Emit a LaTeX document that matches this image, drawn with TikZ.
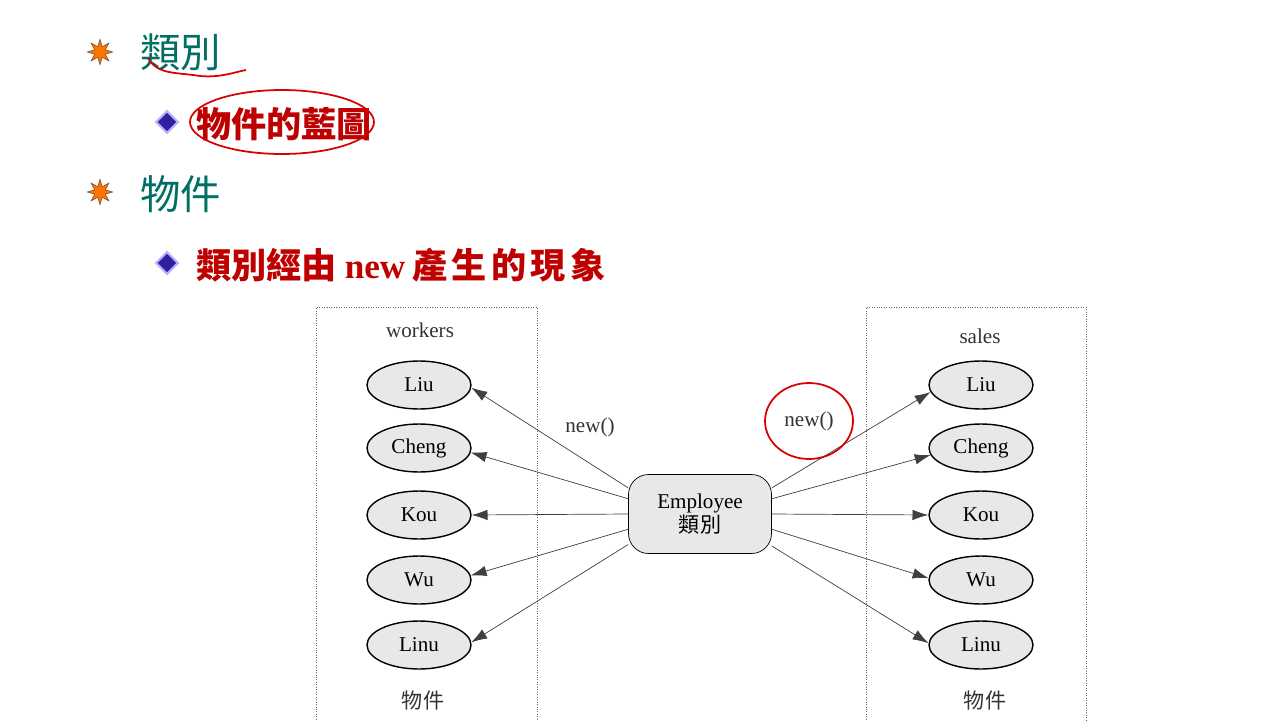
\documentclass[tikz,border=0pt]{standalone}
\usepackage{fontspec}
\setmainfont{Liberation Serif}
\newfontfamily\cjk{Noto Sans CJK TC}
\usetikzlibrary{shapes.geometric,arrows.meta,positioning}
\definecolor{titleteal}{RGB}{0,112,100}
\definecolor{pointred}{RGB}{190,0,0}
\definecolor{objgray}{RGB}{232,232,232}
\definecolor{bulletblue}{RGB}{50,30,160}

\begin{document}
\begin{tikzpicture}[
    x=0.02cm, y=-0.02cm,
    head/.style={anchor=west, text=titleteal, font=\cjk\fontsize{23}{25}\selectfont},
    point/.style={anchor=west, text=pointred, font=\cjk\bfseries\fontsize{20}{22}\selectfont},
    starbullet/.style={star, star points=8, star point ratio=2.2, minimum size=0.5cm, inner sep=0pt, fill=orange!90!red, draw=brown!70!black},
    diabullet/.style={diamond, minimum size=0.45cm, inner sep=0pt, fill=bulletblue, draw=blue!30, line width=1.2pt},
    group/.style={draw=black!60, densely dotted},
    obj/.style={ellipse, draw, thick, fill=objgray, minimum width=2.08cm, minimum height=0.96cm, font=\fontsize{12}{14}\selectfont},
    cls/.style={draw, rounded corners=0.4cm, fill=objgray, minimum width=2.86cm, minimum height=1.58cm, align=center, font=\fontsize{12}{12}\selectfont},
    lbl/.style={font=\fontsize{12}{14}\selectfont, text=black!80},
    make/.style={draw=black!75, -{Latex[length=9pt,width=6pt]}},
    inkmark/.style={draw=red!85!black, line width=1pt}
]
\useasboundingbox[fill=white] (0,0) rectangle (1280,720);

% slide text
\node[starbullet] (b1) at (100,52) {};
\node[head] (h1) at (134,52) {類別};
\node[diabullet] (d1) at (167,122) {};
\node[point] (p1) at (190,124) {物件的藍圖};
\node[starbullet] (b2) at (100,192) {};
\node[head] (h2) at (134,194) {物件};
\node[diabullet] (d2) at (167,263) {};
\node[point] (p2) at (190,265) {類別經由 {\rmfamily\bfseries new}\hspace{4pt}產\hspace{2.5pt}生\hspace{2.5pt}的\hspace{2.5pt}現\hspace{2.5pt}象};

% object groups
\draw[group] (316,722) |- (537,307) -- (537,722);
\draw[group] (866,722) |- (1086,307) -- (1086,722);
\node[lbl] (wk) at (420,330) {workers};
\node[lbl] (sl) at (980,336) {sales};
\node[lbl, font=\cjk\fontsize{12}{14}\selectfont] (ol) at (423,700) {物件};
\node[lbl, font=\cjk\fontsize{12}{14}\selectfont] (or) at (985,700) {物件};

\foreach \n/\y [count=\i] in {Liu/385,Cheng/448,Kou/515,Wu/580,Linu/645} {
    \node[obj] (wo\i) at (419,\y) {\n};
    \node[obj] (sa\i) at (981,\y) {\n};
}

\node[cls] (emp) at (700,514) {Employee\\{\cjk 類別}};

\foreach \i/\a/\b in {1/160/357,2/168/355,3/180/0,4/192/5,5/203/3}
    \draw[make] (emp.\a) -- (wo\i.\b);
\foreach \i/\a/\b in {1/20/188,2/12/188,3/0/180,4/-12/178,5/-24/178}
    \draw[make] (emp.\a) -- (sa\i.\b);

\node[lbl] (nl) at (590,427) {new()};
\node[lbl] (nr) at (809,421) {new()};

% red ink
\draw[inkmark] (nr) ellipse [x radius=0.88cm, y radius=0.76cm];
\draw[inkmark] (282,122) ellipse [x radius=1.84cm, y radius=0.64cm];
\draw[inkmark] (148,58) .. controls (158,75) and (175,72) .. (200,76)
    .. controls (220,78) and (235,72) .. (246,70);
\end{tikzpicture}
\end{document}
